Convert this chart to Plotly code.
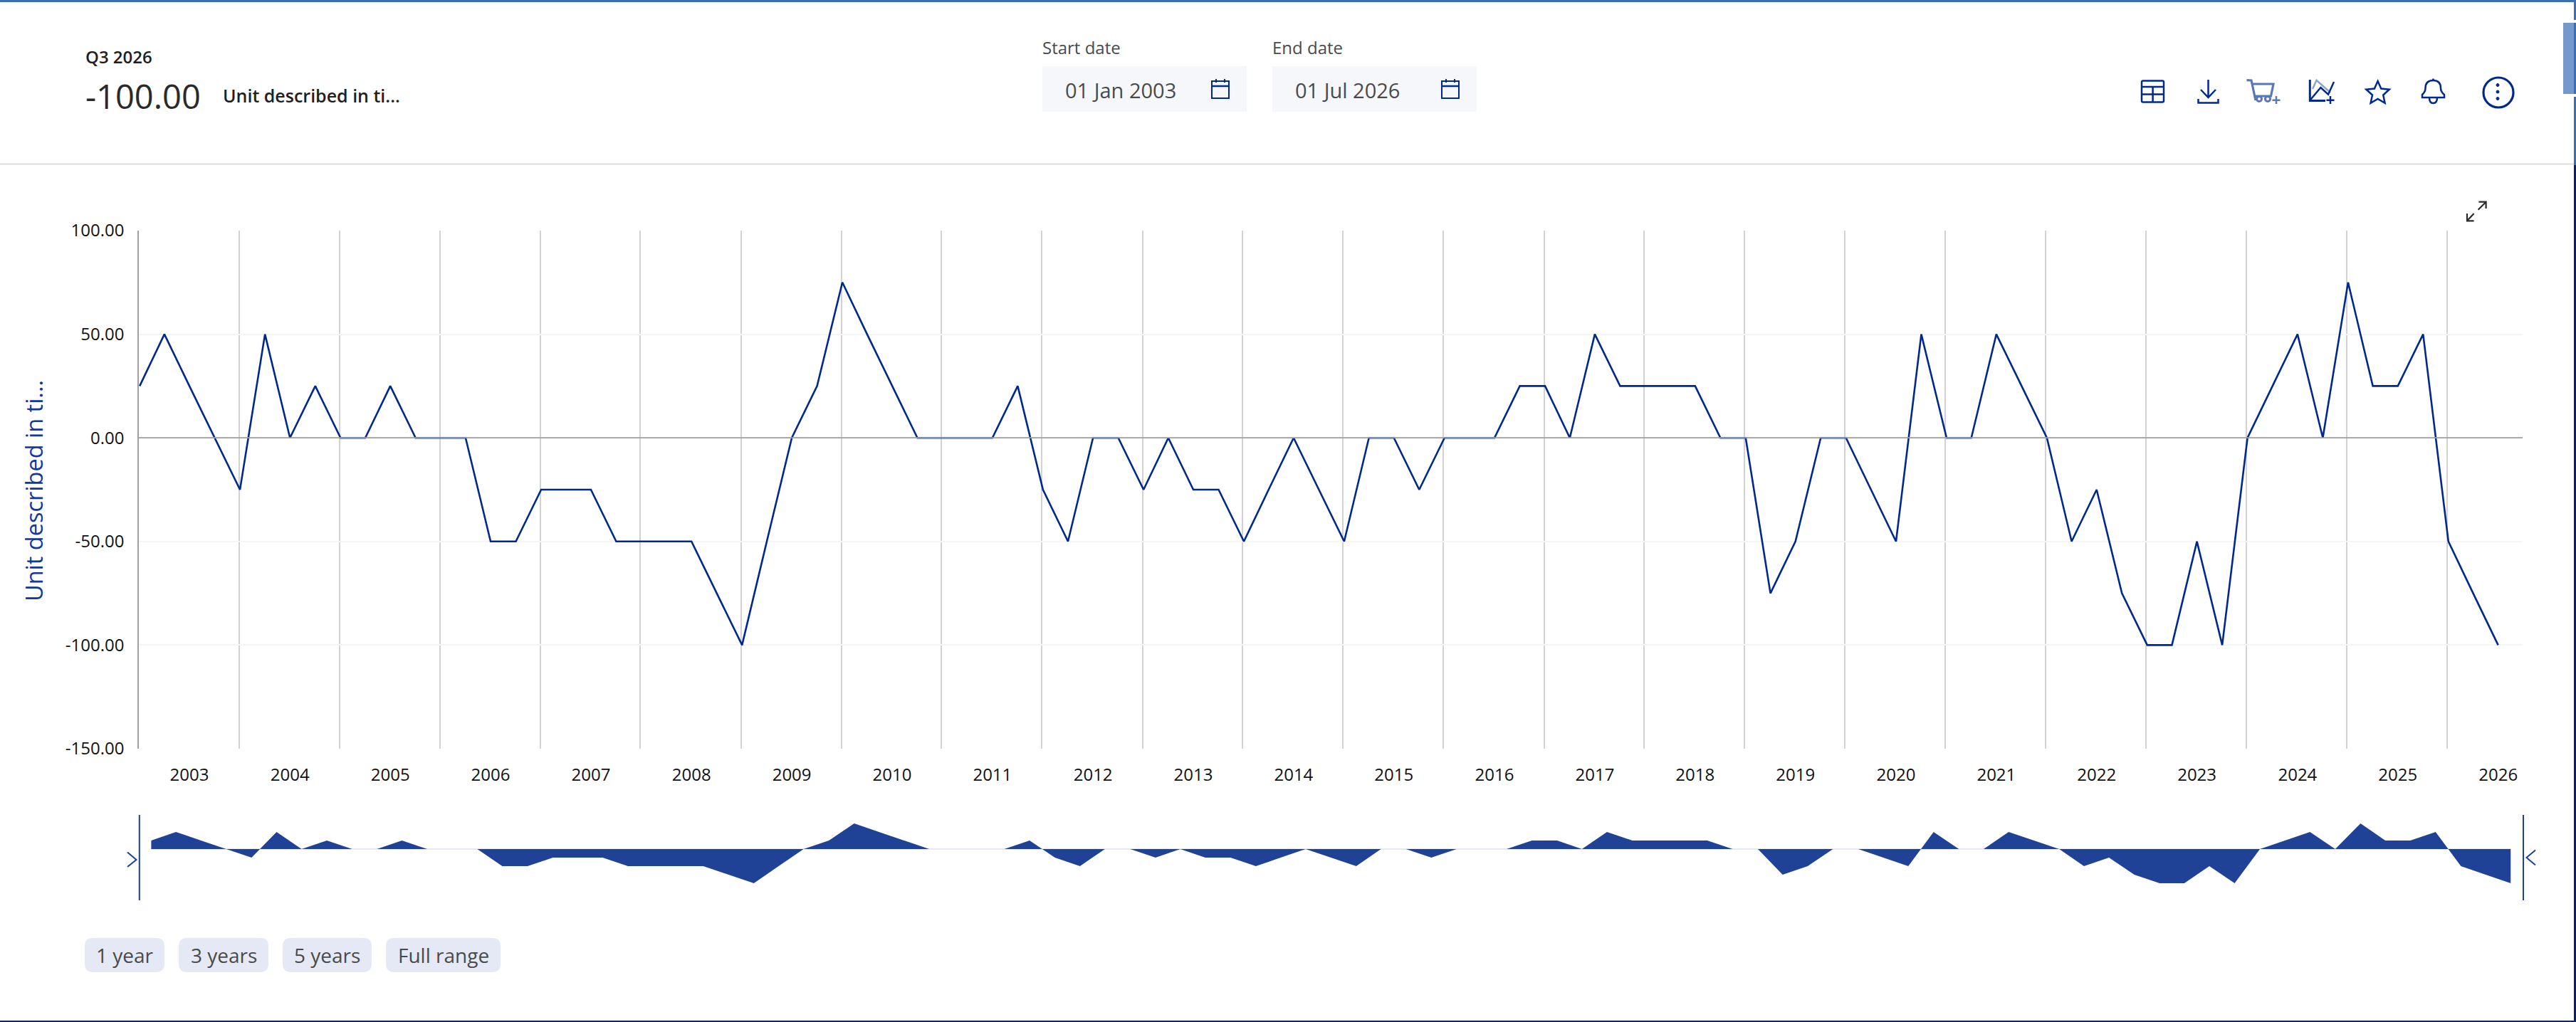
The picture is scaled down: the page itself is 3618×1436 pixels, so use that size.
import math
import re
import pandas as pd
import plotly.graph_objects as go

W, H = 3618, 1436

QUARTER_DATES = pd.date_range("2003-01-01", "2026-07-01", freq="QS").strftime("%Y-%m-%d").tolist()
VALUES = [
    25, 50, 25, 0, -25, 50, 0, 25, 0, 0, 25, 0, 0, 0, -50, -50, -25, -25, -25, -50,
    -50, -50, -50, -75, -100, -50, 0, 25, 75, 50, 25, 0, 0, 0, 0, 25, -25, -50, 0, 0,
    -25, 0, -25, -25, -50, -25, 0, -25, -50, 0, 0, -25, 0, 0, 0, 25, 25, 0, 50, 25,
    25, 25, 25, 0, 0, -75, -50, 0, 0, -25, -50, 50, 0, 0, 50, 25, 0, -50, -25, -75,
    -100, -100, -50, -100, 0, 25, 50, 0, 75, 25, 25, 50, -50, -75, -100,
]
Y_TICKS = [-150, -100, -50, 0, 50, 100]
Y_LABELS = ["-150.00", "-100.00", "-50.00", "0.00", "50.00", "100.00"]
UNIT = "Unit described in ti..."
RANGE_BUTTONS = ["1 year", "3 years", "5 years", "Full range"]

NAVY = "#00298c"
FILL = "#1f4196"
TXT = "#4a4a4a"
FONT = "Open Sans"


def fx(x):
    return x / W


def fy(y):
    return 1 - y / H


def path(d):
    toks = re.findall(r"[MLQCZ]|-?\d+\.?\d*", d)
    out, isx = [], True
    for t in toks:
        if t.isalpha():
            out.append(t)
            isx = True
        else:
            v = float(t)
            out.append(f"{fx(v):.6f}" if isx else f"{fy(v):.6f}")
            isx = not isx
    return " ".join(out)


shapes, notes = [], []


def stroke(d, color=NAVY, width=2, fill=None):
    shapes.append(dict(type="path", path=path(d), xref="paper", yref="paper",
                       line=dict(color=color, width=width),
                       fillcolor=fill if fill else "rgba(0,0,0,0)", layer="above"))


def rect(x0, y0, x1, y1, fill, line=None, lw=0):
    shapes.append(dict(type="rect", xref="paper", yref="paper", x0=fx(x0), x1=fx(x1), y0=fy(y0), y1=fy(y1),
                       fillcolor=fill, line=dict(color=line or fill, width=lw), layer="above"))


def circle(cx, cy, r, color=NAVY, width=2, fill=None):
    shapes.append(dict(type="circle", xref="paper", yref="paper", x0=fx(cx - r), x1=fx(cx + r),
                       y0=fy(cy + r), y1=fy(cy - r), line=dict(color=color, width=width),
                       fillcolor=fill if fill else "rgba(0,0,0,0)", layer="above"))


def round_rect(x0, y0, x1, y1, r, fill):
    d = (f"M {x0 + r} {y0} L {x1 - r} {y0} Q {x1} {y0} {x1} {y0 + r} L {x1} {y1 - r} Q {x1} {y1} {x1 - r} {y1} "
         f"L {x0 + r} {y1} Q {x0} {y1} {x0} {y1 - r} L {x0} {y0 + r} Q {x0} {y0} {x0 + r} {y0} Z")
    stroke(d, color=fill, width=0, fill=fill)


def text(x, y, s, size, color=TXT, anchor="left", weight=400, angle=0):
    notes.append(dict(x=fx(x), y=fy(y), xref="paper", yref="paper", text=s, showarrow=False, xanchor=anchor,
                      yanchor="middle", borderpad=0, borderwidth=0, textangle=angle,
                      font=dict(family=FONT, size=size, color=color, weight=weight)))


# ----- page chrome
rect(0, 0, W, 3, "#3c6eb4")
rect(0, 229.5, 3615, 231.5, "#dcdcdc")
rect(3615, 3, W, 28, "#3c6eb4")
rect(3600, 32, 3615, 132, "#7699cd")
rect(3615, 32, W, 132, "#3c6eb4")
rect(3615, 136, W, 232, "#3c6eb4")
rect(3615, 232, W, H, "#0b1f66")
rect(0, 1434, W, H, "#0b2a5e")

# ----- header texts
text(120, 79, "Q3 2026", 24, "#1f1f1f", weight=600)
text(120, 135, "-100.00", 47, "#2a2a2a")
text(313, 134, UNIT, 25, "#1f1f1f", weight=600)
text(1463.5, 67, "Start date", 24)
text(1787, 67, "End date", 24)
text(47, 690, UNIT, 32.5, "#11389a", anchor="center", angle=-90)

# ----- date inputs
for x0, x1, label, cx in [(1464, 1751, "01 Jan 2003", 1714), (1787, 2074, "01 Jul 2026", 2037)]:
    rect(x0, 93, x1, 157, "#f6f7fb")
    text(x0 + 32, 126, label, 29)
    stroke(f"M {cx - 12} 114 L {cx + 12} 114 L {cx + 12} 138 L {cx - 12} 138 Z")
    stroke(f"M {cx - 12} 121 L {cx + 12} 121", width=2.5)
    stroke(f"M {cx - 6} 111 L {cx - 6} 116 M {cx + 6} 111 L {cx + 6} 116")

# ----- toolbar icons
round_table = "M 3010 113.5 L 3037 113.5 Q 3039 113.5 3039 115.5 L 3039 141.5 Q 3039 143.5 3037 143.5 L 3010 143.5 Q 3008 143.5 3008 141.5 L 3008 115.5 Q 3008 113.5 3010 113.5 Z"
stroke(round_table, width=2.5)
stroke("M 3008 122 L 3039 122 M 3008 132.5 L 3039 132.5 M 3023.6 122 L 3023.6 143.5", width=2.5)
stroke("M 3101.5 112 L 3101.5 137 M 3091 126 L 3101.5 137 L 3112 126", width=2.5)
stroke("M 3087.5 139 L 3087.5 144.5 L 3115.5 144.5 L 3115.5 139", width=2.5)
CART = "#5878bb"
stroke("M 3155.5 112.7 L 3162 113 L 3168 141", CART, 3.2)
stroke("M 3162 118 L 3193 118 L 3189.5 135 L 3166 135", CART, 3.2)
circle(3173, 139, 3.5, CART, 3)
circle(3185, 139, 3.5, CART, 3)
stroke("M 3197 135 L 3197 146 M 3191.5 140.7 L 3202.5 140.7", CART, 2.5)
stroke("M 3248 125 L 3253.5 112.7 L 3273 130", "#8ea3d0", 2.5)
stroke("M 3244.3 112 L 3244.3 141.5 L 3266 141.5", NAVY, 3)
stroke("M 3244.3 141 L 3259.4 123 L 3270 132.7 L 3278 115", NAVY, 2.5)
stroke("M 3273 135 L 3273 146 M 3267.5 140.7 L 3278.5 140.7", NAVY, 2.5)
star_pts = []
for k in range(10):
    r = 17 if k % 2 == 0 else 8
    a = -math.pi / 2 + k * math.pi / 5
    star_pts.append(f"{3339.6 + r * math.cos(a):.1f} {131 + r * math.sin(a):.1f}")
stroke("M " + " L ".join(star_pts) + " Z", width=2.5)
stroke("M 3402 137 L 3402 133 Q 3406.5 129 3406.5 124 Q 3406.5 113 3417.4 113 Q 3428 113 3428 124 Q 3428 129 3433 133 L 3433 137 Z", width=2.5)
stroke("M 3412 137 Q 3412 145 3417.4 145 Q 3423 145 3423 137 M 3417.4 110.5 L 3417.4 113", width=2.5)
circle(3509, 130, 21, NAVY, 3.2)
for cy in (119.5, 129, 138.5):
    circle(3508, cy, 2, NAVY, 1, NAVY)
stroke("M 3480.6 294.7 L 3491.6 283.7 M 3481.5 283.7 L 3491.6 283.7 L 3491.6 293", "#2b2b2b", 2.2)
stroke("M 3474.6 300 L 3465 310.3 M 3465 300 L 3465 310.3 L 3474.6 310.3", "#2b2b2b", 2.2)

# ----- navigator handles
HANDLE = "#1b3f9a"
stroke("M 195.8 1145 L 195.8 1265", HANDLE, 2)
stroke("M 3544 1145 L 3544 1265", HANDLE, 2)
stroke("M 179 1197.5 L 191.5 1208 L 179 1218", HANDLE, 2)
stroke("M 3561 1194.5 L 3548.5 1205 L 3561 1215.5", HANDLE, 2)

# ----- range buttons
for (x0, x1), label in zip([(119, 231), (251, 377), (397, 522), (542, 703)], RANGE_BUTTONS):
    round_rect(x0, 1317.7, x1, 1366, 12, "#e4e9f5")
    text((x0 + x1) / 2, 1342, label, 28, anchor="center")

# ----- chart-bound shapes
shapes.append(dict(type="line", xref="x2", yref="y2", x0=QUARTER_DATES[0], x1=QUARTER_DATES[-1], y0=0, y1=0,
                   line=dict(color="#e5e9f4", width=2), layer="below"))
shapes.append(dict(type="line", xref="x", yref="y", x0="2002-12-29", x1="2026-09-28", y0=0, y1=0,
                   line=dict(color="#9e9e9e", width=1.8), layer="above"))

fig = go.Figure()
fig.add_trace(go.Scatter(x=QUARTER_DATES, y=VALUES, mode="lines", line=dict(color=NAVY, width=2.6),
                         xaxis="x", yaxis="y", hoverinfo="skip", showlegend=False))
fig.add_trace(go.Scatter(x=QUARTER_DATES, y=VALUES, mode="lines", line=dict(width=0), fill="tozeroy",
                         fillcolor=FILL, xaxis="x2", yaxis="y2", hoverinfo="skip", showlegend=False))

fig.update_layout(
    width=W, height=H, margin=dict(l=0, r=0, t=0, b=0, autoexpand=False), paper_bgcolor="white", plot_bgcolor="white",
    font=dict(family=FONT, size=24, color="#111111"),
    showlegend=False, shapes=shapes, annotations=notes,
    xaxis=dict(type="date", domain=[fx(195), fx(3543)], range=["2002-12-29", "2026-09-28"], anchor="y",
               tick0="2003-07-01", dtick="M12", tickformat="%Y", showgrid=False, zeroline=False, ticks="",
               showline=False, ticklabelstandoff=20, tickfont=dict(size=24, color="#111111"),
               minor=dict(tick0="2002-12-28", dtick="M12", showgrid=True, gridcolor="#d2d2d2", gridwidth=1.5, ticks="")),
    yaxis=dict(domain=[fy(1052), fy(324)], range=[-150, 100], anchor="x", tickmode="array", tickvals=Y_TICKS,
               ticktext=Y_LABELS, showgrid=True, gridcolor="#f5f5f5", gridwidth=2, zeroline=False,
               showline=True, linecolor="#a0a0a0", linewidth=1.6, ticks="", ticklabelstandoff=14,
               tickfont=dict(size=24, color="#111111")),
    xaxis2=dict(type="date", domain=[fx(195), fx(3544)], range=["2002-11-17", "2026-08-16"], anchor="y2", visible=False),
    yaxis2=dict(domain=[fy(1265), fy(1145)], range=[-150, 100], anchor="x2", visible=False),
)

fig.write_html("out.html", config={"displayModeBar": False, "responsive": False},
               post_script="document.body.style.margin='0';document.body.style.overflow='hidden';")
